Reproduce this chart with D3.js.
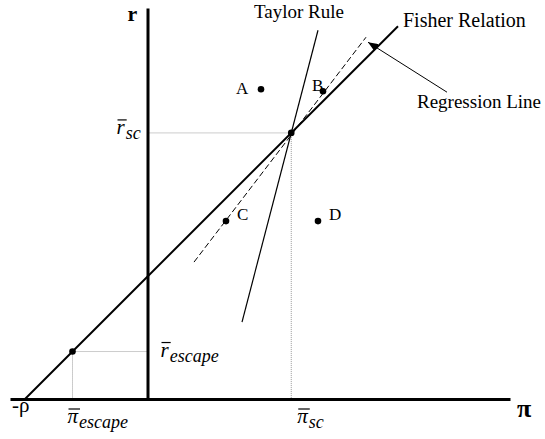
<!DOCTYPE html>
<html>
<head>
<meta charset="utf-8">
<script src="https://cdn.jsdelivr.net/npm/d3@7"></script>
<style>
  body { margin: 0; background: #fff; }
  text { font-family: "Liberation Serif", "Times New Roman", serif; fill: #000; }
</style>
</head>
<body>
<div class="vis"></div>
<script>
// frame dimensions
const FRAME_WIDTH = 545;
const FRAME_HEIGHT = 439;

// model units for the diagram (inflation pi on x, interest rate r on y)
const xDomain = [-5.5, 14.5];
const yDomain = [0, 15.65];
const rho = 4.9;
const scPoint = [5.75, 10.65];
const escapePoint = [-3.0, 1.9];
const fisherLine = [[-4.9, 0], [10.02, 14.92]];
const taylorLine = [[3.78, 3.08], [6.82, 14.76]];
const regressionLine = [[1.86, 5.48], [8.74, 14.48]];
const arrowLine = [[11.98, 12.28], [8.82, 14.28]];

// observed points
const obsNames = ['A', 'B', 'C', 'D'];
const obsPi = [4.54, 7.02, 3.14, 6.82];
const obsR = [12.4, 12.32, 7.12, 7.12];

const FRAME = d3.select('.vis')
  .append('svg')
    .attr('width', FRAME_WIDTH)
    .attr('height', FRAME_HEIGHT);

// scales
const xscale = d3.scaleLinear().domain(xDomain).range([10, 510]);
const yscale = d3.scaleLinear().domain(yDomain).range([399, 8]);

const line = d3.line().x(d => xscale(d[0])).y(d => yscale(d[1]));

// arrow marker
FRAME.append('defs').append('marker')
  .attr('id', 'arrow')
  .attr('viewBox', '0 0 10 8')
  .attr('refX', 10).attr('refY', 4)
  .attr('markerWidth', 10).attr('markerHeight', 8)
  .attr('markerUnits', 'userSpaceOnUse')
  .attr('orient', 'auto')
  .append('path')
    .attr('d', 'M0,0L10,4L0,8Z')
    .attr('fill', '#000');

// dotted guide lines
const guides = [
  [[0, scPoint[1]], scPoint],
  [scPoint, [scPoint[0], 0]],
  [[0, escapePoint[1]], escapePoint],
  [escapePoint, [escapePoint[0], 0]]
];
FRAME.selectAll('.guide')
  .data(guides)
  .enter().append('path')
    .attr('class', 'guide')
    .attr('d', line)
    .attr('fill', 'none')
    .attr('stroke', '#999')
    .attr('stroke-width', 1)
    .attr('stroke-dasharray', '1,1');

// axes (no ticks, just the domain lines)
FRAME.append('g')
  .attr('transform', 'translate(0,' + yscale(0) + ')')
  .call(d3.axisBottom(xscale).tickValues([]).tickSizeOuter(0))
  .select('.domain').attr('stroke-width', 3);

FRAME.append('g')
  .attr('transform', 'translate(' + xscale(0) + ',0)')
  .call(d3.axisLeft(yscale).tickValues([]).tickSizeOuter(0))
  .select('.domain').attr('stroke-width', 3);

// relation lines
FRAME.append('path').attr('d', line(fisherLine))
  .attr('stroke', '#000').attr('stroke-width', 2).attr('fill', 'none');
FRAME.append('path').attr('d', line(taylorLine))
  .attr('stroke', '#000').attr('stroke-width', 1.2).attr('fill', 'none');
FRAME.append('path').attr('d', line(regressionLine))
  .attr('stroke', '#000').attr('stroke-width', 1).attr('fill', 'none')
  .attr('stroke-dasharray', '6,3');
FRAME.append('path').attr('d', line(arrowLine))
  .attr('stroke', '#000').attr('stroke-width', 1).attr('fill', 'none')
  .attr('marker-end', 'url(#arrow)');

// points
const pts = obsNames.map((n, i) => ({name: n, pi: obsPi[i], r: obsR[i]}));
FRAME.selectAll('.obs')
  .data(pts.concat([{pi: scPoint[0], r: scPoint[1]}, {pi: escapePoint[0], r: escapePoint[1]}]))
  .enter().append('circle')
    .attr('cx', d => xscale(d.pi))
    .attr('cy', d => yscale(d.r))
    .attr('r', 3.3)
    .attr('fill', '#000');

// point labels
const labelOffsets = {A: [-25, 5], B: [-11, 0], C: [11, -1], D: [11, -1]};
FRAME.selectAll('.obsLabel')
  .data(pts)
  .enter().append('text')
    .attr('x', d => xscale(d.pi) + labelOffsets[d.name][0])
    .attr('y', d => yscale(d.r) + labelOffsets[d.name][1])
    .attr('font-size', '17px')
    .text(d => d.name);

// line names
FRAME.append('text').attr('x', 299).attr('y', 18)
  .attr('text-anchor', 'middle').attr('font-size', '19px').text('Taylor Rule');
FRAME.append('text').attr('x', 403).attr('y', 27)
  .attr('font-size', '20px').text('Fisher Relation');
FRAME.append('text').attr('x', 417).attr('y', 108)
  .attr('font-size', '19px').text('Regression Line');

// axis names
FRAME.append('text').attr('x', xscale(0) - 20).attr('y', 21)
  .attr('font-size', '22px').attr('font-weight', 'bold').text('r');
FRAME.append('text').attr('x', 517).attr('y', 417)
  .attr('font-size', '26px').attr('font-weight', 'bold').text('π');
FRAME.append('text').attr('x', xscale(-rho) - 13).attr('y', 412)
  .attr('font-family', 'DejaVu Sans').attr('font-size', '21px').text('-ρ');

// barred labels with subscripts
function barLabel(x, y, main, sub) {
  const g = FRAME.append('g');
  const m = g.append('text').attr('x', x).attr('y', y)
    .attr('font-style', 'italic').attr('font-size', '21px').text(main);
  const w = m.node().getComputedTextLength();
  g.append('line')
    .attr('x1', x + 1).attr('x2', x + w + 2)
    .attr('y1', y - 14).attr('y2', y - 14)
    .attr('stroke', '#000').attr('stroke-width', 1.2);
  g.append('text').attr('x', x + w + 1).attr('y', y + 5)
    .attr('font-style', 'italic').attr('font-size', '18px').text(sub);
}
barLabel(xscale(0) - 31, yscale(scPoint[1]) + 1, 'r', 'sc');
barLabel(xscale(0) + 13, yscale(escapePoint[1]) + 5, 'r', 'escape');
barLabel(xscale(escapePoint[0]) - 5, yscale(0) + 24, 'π', 'escape');
barLabel(xscale(scPoint[0]) + 6, yscale(0) + 24, 'π', 'sc');
</script>
</body>
</html>
